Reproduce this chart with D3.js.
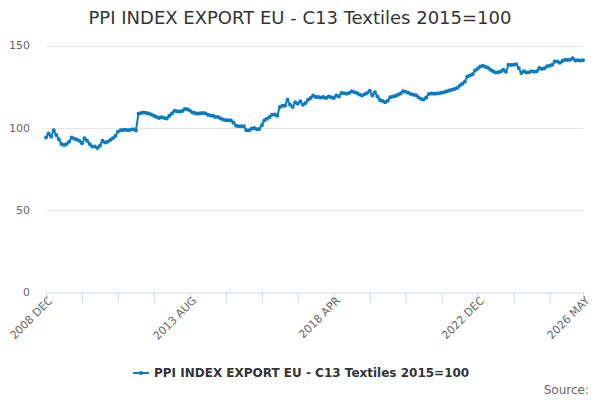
<!DOCTYPE html>
<html>
<head>
<meta charset="utf-8">
<script src="https://cdn.jsdelivr.net/npm/d3@7"></script>
<style>
  body { margin: 0; background: #fff; }
  svg { font-family: "DejaVu Sans", sans-serif; }
</style>
</head>
<body>
<svg id="chart" width="600" height="400"></svg>
<script>
// Chart data
const title = "PPI INDEX EXPORT EU - C13 Textiles 2015=100";
const seriesName = "PPI INDEX EXPORT EU - C13 Textiles 2015=100";
const startYear = 2008;
const startMonth = 11; // DEC
const monthNames = ["JAN", "FEB", "MAR", "APR", "MAY", "JUN", "JUL", "AUG", "SEP", "OCT", "NOV", "DEC"];
const values = [
  94, 96.5, 94.5, 98.5, 95.5, 93, 90, 89.5, 90, 91.5, 94, 93.3,
  92.8, 92, 90.5, 93.5, 92, 90, 88.5, 88.6, 87.6, 89, 92, 91,
  91.5, 92.5, 93.5, 95, 97.5, 98.5, 98.6, 98.8, 98.5, 98.8, 99, 98.3,
  108.5, 109, 109.3, 109, 108.6, 108, 107.3, 106.5, 105.9, 106.3, 105.9, 105.6,
  107.2, 108.6, 110.3, 110, 109.9, 110.2, 111.4, 111.2, 110.5, 109.3, 108.9, 108.5,
  108.7, 108.9, 108.8, 107.9, 107.4, 107.2, 106.5, 106.5, 105.6, 104.9, 104.5, 104.5,
  104.3, 103, 101.2, 100.9, 100.8, 100.8, 98.4, 98.4, 99.4, 99.8, 99, 99.2,
  101.5, 104.5, 105.5, 106.5, 107.9, 108, 107.3, 112.6, 113.4, 113.4, 117, 114,
  112.6, 115.4, 114.6, 116, 114, 115, 117, 118, 119.6, 118.6, 118.7, 118.4,
  118.7, 118, 119, 118.5, 118, 119.5, 119, 121.1, 121, 120.7, 121.1, 122.1,
  121.5, 121.1, 120.2, 119.6, 120.4, 121.1, 122.5, 119.5, 121.5, 119, 116.8, 116.2,
  115.4, 116.4, 118.5, 119, 119.3, 120, 120.8, 122.1, 121.8, 121.3, 120.5, 120,
  119.7, 118.5, 117.4, 117.2, 118.4, 120.5, 120.8, 120.7, 120.8, 121, 121.3, 121.5,
  122.1, 122.6, 123, 123.5, 124.2, 125.5, 126.8, 128, 131.2, 131.8, 132.5, 134.8,
  135.9, 137.2, 137.7, 137, 136.5, 135.2, 134.3, 133.5, 133.7, 134.2, 135.3, 134,
  138.3, 138.2, 138.3, 138.6, 136.3, 133.3, 134.3, 133.6, 133.7, 134.3, 134, 134.3,
  136.3, 135.7, 136.2, 137.3, 137.7, 138.3, 140.2, 140.3, 139.5, 140.5, 141.3, 141.2,
  141.3, 142.3, 140.9, 141, 140.9, 141
];
const yTicks = [0, 50, 100, 150];
const tickEvery = 14;
const labelledTicks = ["2008 DEC", "2013 AUG", "2018 APR", "2022 DEC", "2026 MAY"];

// Month categories
const categories = values.map((v, i) => {
  const m = startMonth + i;
  return (startYear + Math.floor(m / 12)) + " " + monthNames[m % 12];
});

const svg = d3.select("#chart");
const color = "#0a7cc1";

const x = d3.scalePoint().domain(categories).range([46, 583]);
const y = d3.scaleLinear().domain([0, 150]).range([292, 45.5]);

// Title
svg.append("text")
  .attr("x", 300).attr("y", 24)
  .attr("text-anchor", "middle")
  .attr("font-size", 18)
  .attr("fill", "#333")
  .text(title);

// Grid lines
svg.append("g").selectAll("line")
  .data(yTicks.filter(d => d > 0))
  .join("line")
  .attr("x1", 46).attr("x2", 583)
  .attr("y1", d => Math.round(y(d)) + 0.5).attr("y2", d => Math.round(y(d)) + 0.5)
  .attr("stroke", "#e6e6e6");

// Y axis labels
svg.append("g").selectAll("text")
  .data(yTicks)
  .join("text")
  .attr("x", 30).attr("y", d => y(d))
  .attr("dy", "0.35em")
  .attr("text-anchor", "end")
  .attr("font-size", 11)
  .attr("fill", "#666")
  .text(d => d);

// X axis
const tickCats = categories.filter((c, i) => i % tickEvery === 0 || i === categories.length - 1);
const xAxis = d3.axisBottom(x)
  .tickValues(tickCats)
  .tickSize(10)
  .tickFormat(d => labelledTicks.includes(d) ? d : "");
const gx = svg.append("g")
  .attr("transform", "translate(0," + Math.round(y(0)) + ".5)")
  .call(xAxis);
gx.select(".domain").attr("stroke", "#ccd6eb");
gx.selectAll(".tick line").attr("stroke", "#ccd6eb");
gx.selectAll(".tick text")
  .attr("font-family", "DejaVu Sans, sans-serif")
  .attr("font-size", 11)
  .attr("fill", "#666")
  .attr("text-anchor", "end")
  .attr("transform", "translate(4,6) rotate(-45)")
  .attr("dy", "0.35em")
  .attr("y", 0).attr("x", 0);

// Series line
const line = d3.line()
  .x((d, i) => x(categories[i]))
  .y(d => y(d));
svg.append("path")
  .datum(values)
  .attr("d", line)
  .attr("fill", "none")
  .attr("stroke", color)
  .attr("stroke-width", 2)
  .attr("stroke-linejoin", "round");

svg.append("g").selectAll("circle")
  .data(values)
  .join("circle")
  .attr("cx", (d, i) => x(categories[i]))
  .attr("cy", d => y(d))
  .attr("r", 2)
  .attr("fill", color);

// Legend
const legend = svg.append("g").attr("transform", "translate(133,373)");
legend.append("line")
  .attr("x1", 0).attr("x2", 16)
  .attr("stroke", color).attr("stroke-width", 2);
legend.append("circle")
  .attr("cx", 8).attr("r", 2).attr("fill", color);
legend.append("text")
  .attr("x", 21).attr("dy", "0.35em")
  .attr("font-size", 12)
  .attr("font-weight", "bold")
  .attr("fill", "#333")
  .text(seriesName);

// Credits
svg.append("text")
  .attr("x", 589).attr("y", 394)
  .attr("text-anchor", "end")
  .attr("font-size", 12)
  .attr("fill", "#666")
  .text("Source:");
</script>
</body>
</html>
